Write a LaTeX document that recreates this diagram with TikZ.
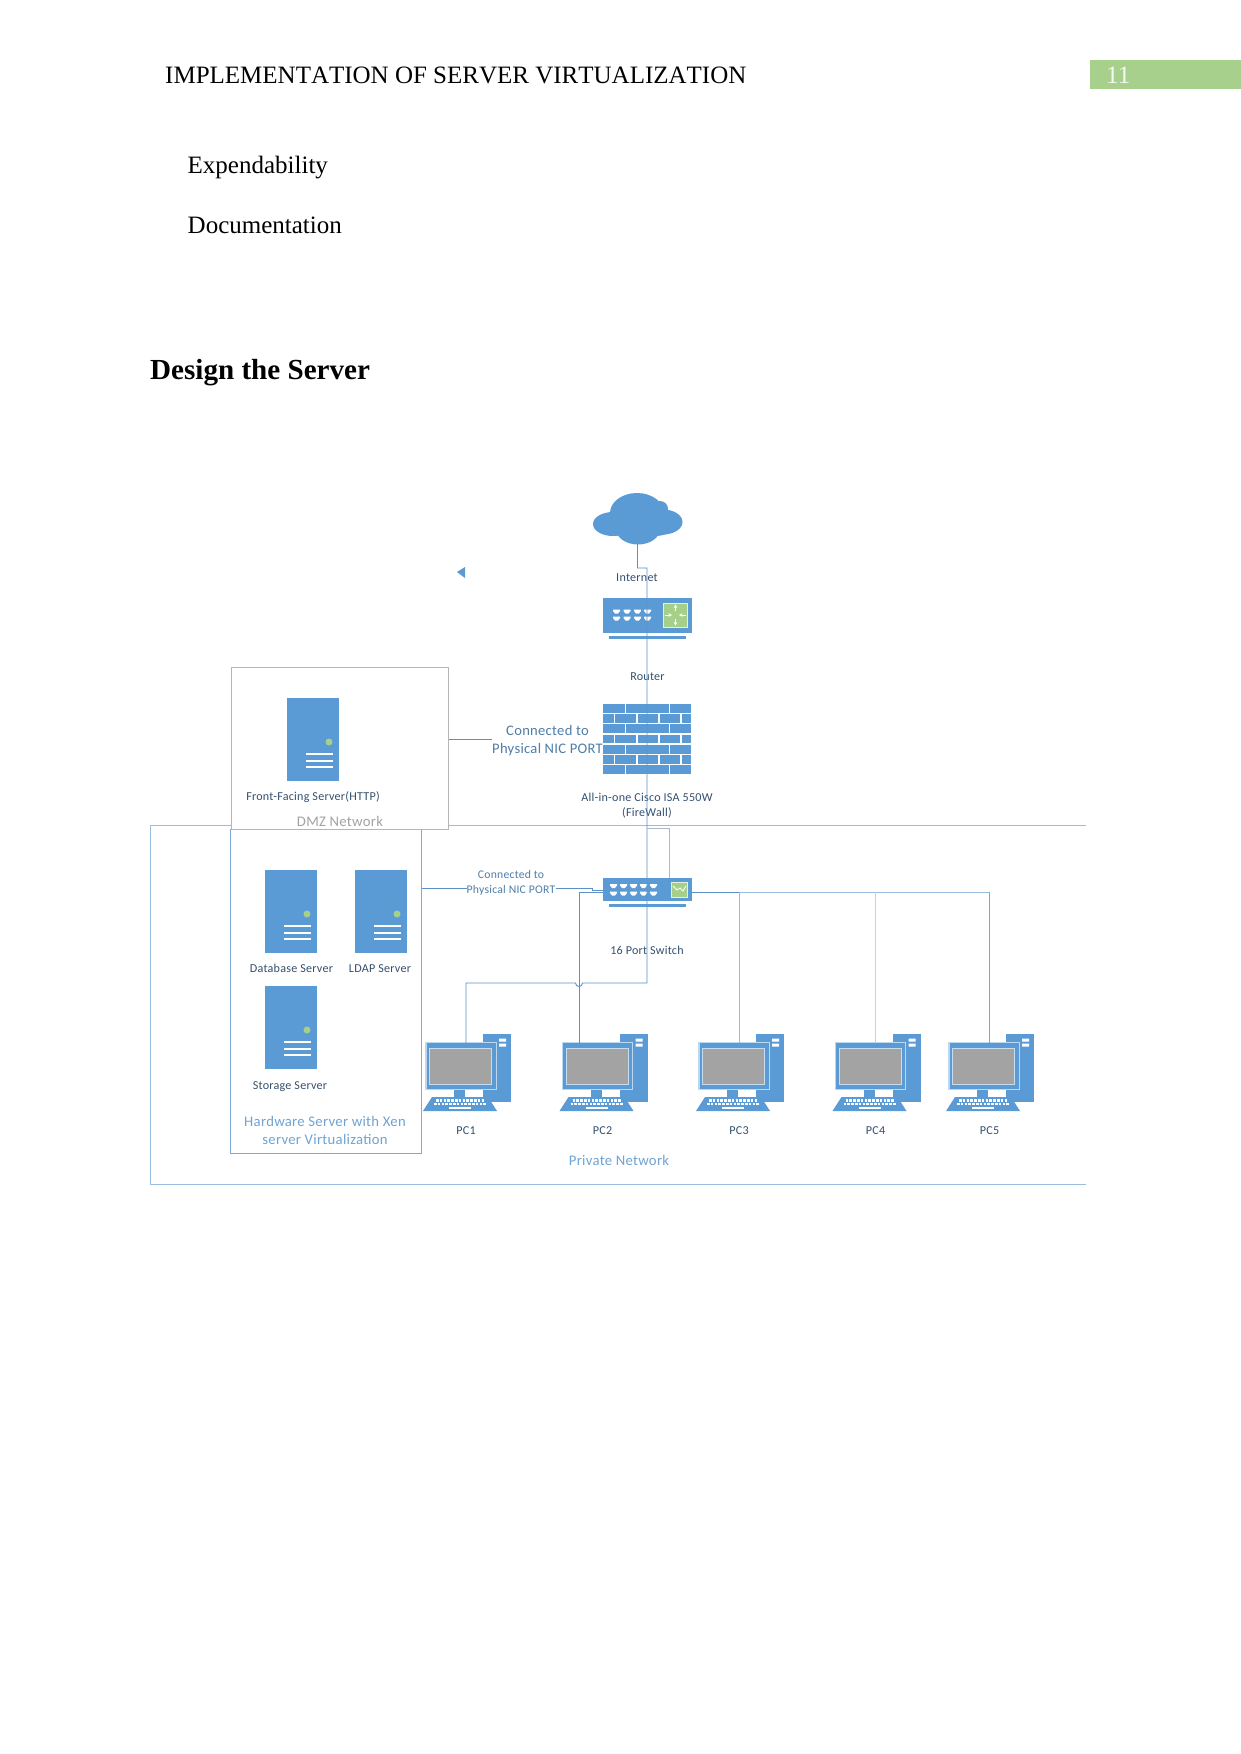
\documentclass[tikz,border=0pt]{standalone}
\usepackage{fontspec}
\setmainfont{Liberation Serif}
\newfontfamily\labelfont[LetterSpace=2]{Carlito}
\usetikzlibrary{arrows.meta}
\definecolor{iconblue}{HTML}{5B9BD5}
\definecolor{wireblue}{HTML}{5C90C8}
\definecolor{hwline}{HTML}{7FAAD8}
\definecolor{labeldark}{HTML}{34506E}
\definecolor{labelmid}{HTML}{4F7EA8}
\definecolor{labellight}{HTML}{6FA3D3}
\definecolor{boxgrey}{HTML}{B5B5B5}
\definecolor{netline}{HTML}{9ABDE2}
\definecolor{leafgreen}{HTML}{A6D08A}
\definecolor{headgreen}{HTML}{A8D08D}
\definecolor{screengrey}{HTML}{A3A3A3}
\tikzset{
  x=1pt,y=-1pt,
  fs/.style={font=\fontsize{#1}{#1}\selectfont},
  pagetext/.style={inner sep=0pt,anchor=base west},
  devlabel/.style={inner sep=0pt,text=labeldark,font=\labelfont\fontsize{12.1}{15}\selectfont,align=center},
  nicbig/.style={inner sep=0pt,text=labelmid,font=\labelfont\fontsize{14.6}{18}\selectfont,align=center},
  nicsmall/.style={inner sep=0pt,text=labelmid,font=\labelfont\fontsize{11.7}{14.5}\selectfont,align=center},
  boxlabel/.style={inner sep=0pt,text=labellight,font=\labelfont\fontsize{14.7}{18}\selectfont,align=center},
  solidicon/.style={fill=iconblue,draw=none,inner sep=0pt,outer sep=0pt,anchor=north west},
  wire/.style={draw=wireblue,line width=.9pt},
  softwire/.style={draw=netline,line width=1pt},
  keyrow/.style={draw=white,line width=2.4pt,dash pattern=on 2.6pt off 1.2pt},
}
% Tower server icon with its status light and drive slots
\newcommand{\servericon}[3]{%
  \node[solidicon,minimum width=52pt,minimum height=83pt] (#1) at (#2,#3) {};
  \begin{scope}[shift={(#2,#3)}]
    \fill[leafgreen] (42,44) circle[radius=3.5pt];
    \foreach \yy in {55,62,68} \fill[white] (19,\yy) rectangle (46,\yy+1.5);
  \end{scope}}
% Desktop computer icon: tower, monitor, stand and keyboard
\newcommand{\pcicon}[3]{%
  \begin{scope}[shift={(#2,#3)}]
    \fill[iconblue] (60,0) rectangle (88,68);
    \fill[white] (76,4.5) rectangle (83,7.5) (76,9.5) rectangle (83,12.5);
    \fill[iconblue!40!white] (2.2,8) rectangle (73.8,56);
    \node[solidicon,minimum width=69pt,minimum height=46pt] (#1) at (3.5,9) {};
    \fill[screengrey,draw=iconblue!35!white,line width=.9pt] (6.5,14.5) rectangle (68.5,50);
    \fill[iconblue] (31,55.5) rectangle (42,63);
    \fill[iconblue] (9,63) -- (65,63) -- (74,77) -- (0,77) -- cycle;
    \draw[keyrow] (13,66.5) -- (61,66.5);
    \draw[keyrow] (11,70) -- (63,70);
    \fill[white] (26,73) rectangle (48,75);
  \end{scope}}
% One row of small white network ports
\newcommand{\portrow}[3]{%
  \foreach \xx in {#3} {
    \fill[white] (#1+\xx,#2) -- (#1+\xx+7,#2) -- (#1+\xx+7,#2+1.5) -- (#1+\xx+5,#2+4) -- (#1+\xx+2,#2+4) -- (#1+\xx,#2+1.5) -- cycle;
  }}
\begin{document}
\begin{tikzpicture}
\useasboundingbox (0,0) rectangle (1241,1754);
\fill[white] (0,0) rectangle (1241,1754);

% Running head and page number
\node[pagetext,font=\addfontfeature{Kerning=Off}\fontsize{25}{25}\selectfont] (head) at (165,83) {IMPLEMENTATION OF SERVER VIRTUALIZATION};
\node[fill=headgreen,inner sep=0pt,anchor=north west,minimum width=151pt,minimum height=29pt] (pagebox) at (1090,60) {};
\node[pagetext,fs=25,text=white!88!headgreen] (pageno) at (1106,83.5) {11};

% Body text
\node[pagetext,fs=25] (exp) at (187.5,173) {Expendability};
\node[pagetext,fs=25] (doc) at (187.5,233) {Documentation};
\node[pagetext,font=\bfseries\fontsize{29.1}{30}\selectfont] (design) at (150,379) {Design the Server};

% Private network frame, open on its right side
\draw[softwire] (1086,825) -- (150,825) -- (150,1184) -- (1086,1184);

% Hardware server frame
\draw[draw=hwline,line width=1pt] (230.5,829) rectangle (421.5,1153);
\coordinate (hwport) at (421.5,888);

% DMZ frame
\node[draw=boxgrey,fill=white,line width=1pt,inner sep=0pt,anchor=north west,minimum width=217pt,minimum height=162pt] (dmz) at (230.5,667) {};

% Marker beside the cloud
\fill[iconblue] (457,572) -- (465,567) -- (465,578) -- cycle;

% Internet cloud
\begin{scope}
  \fill[iconblue] (613,524) ellipse[x radius=20pt,y radius=12pt];
  \fill[iconblue] (637,513) ellipse[x radius=27pt,y radius=20pt];
  \fill[iconblue] (663,522) ellipse[x radius=19.5pt,y radius=12.5pt];
  \fill[iconblue] (660,509) circle[radius=8pt];
  \fill[iconblue] (638,529) ellipse[x radius=22pt,y radius=15.5pt];
  \fill[iconblue] (627,527) ellipse[x radius=20pt,y radius=9pt];
  \fill[iconblue] (655,527) ellipse[x radius=18pt,y radius=9pt];
\end{scope}
\coordinate (cloudfoot) at (637.5,544);

% Router
\node[solidicon,minimum width=89pt,minimum height=35pt] (router) at (603,598) {};
\fill[iconblue] (609,636) rectangle (686,638.5);
\node[fill=leafgreen,draw=white!70!leafgreen,line width=.6pt,inner sep=0pt,minimum size=24pt] (routergreen) at (675.5,615) {};
\begin{scope}[draw=white,line width=.9pt,-{Stealth[length=3.5pt,width=3.5pt]}]
  \draw (675.5,611) -- (675.5,604.5);
  \draw (675.5,619) -- (675.5,625.5);
  \draw (665,615) -- (672,615);
  \draw (686,615) -- (679,615);
\end{scope}
\portrow{613}{609.5}{0,10.5,21,31}
\portrow{613}{616.5}{0,10.5,21,31}

% Firewall built from staggered brick courses
\node[inner sep=0pt,outer sep=0pt,anchor=north west,minimum width=88pt,minimum height=70pt] (firewall) at (603,704) {};
\foreach \yy in {704,724,745,765}
  \foreach \aa/\bb in {603/624.5,626/669,670.3/691}
    \fill[iconblue] (\aa,\yy) rectangle (\bb,\yy+8.8);
\foreach \yy in {714,734.6,755}
  \foreach \aa/\bb in {603/613.5,615/636,637.5/658,659.5/680,681.5/691}
    \fill[iconblue] (\aa,\yy) rectangle (\bb,\yy+8.8);

% Sixteen-port switch
\node[solidicon,minimum width=89pt,minimum height=23pt] (switch) at (603,878) {};
\fill[iconblue] (609,904) rectangle (686,906.5);
\node[fill=leafgreen,draw=white!70!leafgreen,line width=.6pt,inner sep=0pt,minimum width=16pt,minimum height=15pt] (switchgreen) at (679.5,889.5) {};
\draw[white,line width=.8pt] (673,886) -- (677,890) -- (680,888) -- (683,891) -- (686,886);
\portrow{610}{884}{0,10,20,30,40}
\portrow{610}{891.5}{0,10,20,30,40}

% Servers
\servericon{front}{287}{698}
\servericon{database}{265}{870}
\servericon{ldap}{355}{870}
\servericon{storage}{265}{986}

% Workstations
\pcicon{pc1mon}{423}{1034}
\pcicon{pc2mon}{559.5}{1034}
\pcicon{pc3mon}{696}{1034}
\pcicon{pc4mon}{832.5}{1034}
\pcicon{pc5mon}{946}{1034}

% Device labels
\node[devlabel] (inet) at (637,578) {Internet};
\node[devlabel] (routerlabel) at (647.5,676.5) {Router};
\node[devlabel] (fwlabel) at (647,805.5) {All-in-one Cisco ISA 550W\\(FireWall)};
\node[devlabel] (swlabel) at (647,950) {16 Port Switch};
\node[devlabel] (frontlabel) at (313,797.5) {Front-Facing Server(HTTP)};
\node[devlabel] (dblabel) at (291.5,968) {Database Server};
\node[devlabel] (ldaplabel) at (380,968.5) {LDAP Server};
\node[devlabel] (stlabel) at (290,1087) {Storage Server};
\node[devlabel] (pc1) at (466,1131) {PC1};
\node[devlabel] (pc2) at (602.5,1131) {PC2};
\node[devlabel] (pc3) at (739,1131) {PC3};
\node[devlabel] (pc4) at (875.5,1131) {PC4};
\node[devlabel] (pc5) at (989.5,1131) {PC5};

% Network and port captions
\node[boxlabel,text=boxgrey!90!black] (dmzlabel) at (340,821.5) {DMZ Network};
\node[boxlabel] (hwlabel) at (325,1130) {Hardware Server with Xen\\server Virtualization};
\node[boxlabel] (privlabel) at (619,1160) {Private Network};
\node[nicbig] (nicup) at (547.5,740.5) {Connected to\\Physical NIC PORT};
\node[nicsmall] (niclow) at (511,883) {Connected to\\Physical NIC PORT};

% Drop points on top of the workstations
\coordinate (pc1in) at (466,1043);
\coordinate (pc2in) at (579,1043);
\coordinate (pc3in) at (739,1043);
\coordinate (pc4in) at (875.5,1043);
\coordinate (pc5in) at (989.5,1043);

% Backbone from the cloud through router and firewall to the PC1 branch
\draw[wire] (cloudfoot) -- (637.5,568) -- (647,568) -- (647,983)
  -- (582.5,983) arc[start angle=0,end angle=-180,radius=3.5pt] -- (466,983) -- (pc1in);

% Private network link into the switch
\draw[softwire,draw=boxgrey!50!netline] (switch.north-|669,0) -- (669,828) -- (647,828);
\draw[wire] (pc2in) -- (579,892) -- (switch.west|-0,892);

% Switch to the remaining workstations
\draw[wire] (switch.east|-0,892) -- (739,892);
\draw[softwire] (739,892) -- (989.5,892);
\draw[softwire] (739,892) -- (pc3in);
\draw[softwire,draw=netline!65!white] (875.5,892) -- (pc4in);
\draw[wire,draw=wireblue!80!white] (989.5,892) -- (pc5in);

% Physical NIC links
\draw[wire] (dmz.east|-0,739) -- (nicup.west|-0,739);
\draw[wire] (hwport) -- (niclow.west|-hwport);
\draw[wire] (niclow.east|-hwport) -- (592,888) -- (592,890) -- (switch.west|-0,890);
\end{tikzpicture}
\end{document}
